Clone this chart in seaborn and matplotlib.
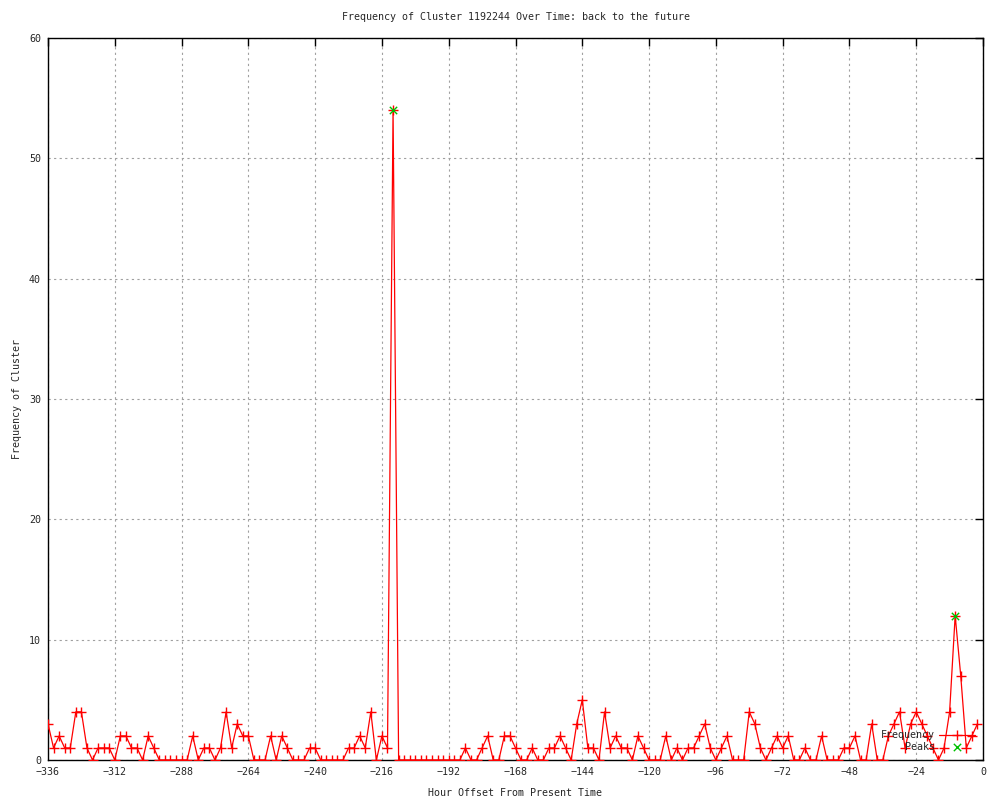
import numpy as np
import pandas as pd
import matplotlib
matplotlib.use("Agg")
import matplotlib.pyplot as plt
import seaborn as sns

# hour offsets (2-hour bins) and the cluster counts
hours = list(range(-336, 0, 2))
freq = [
    3, 1, 2, 1, 1, 4, 4, 1, 0, 1, 1, 1, 0, 2, 2, 1, 1, 0, 2, 1,      # -336 .. -298
    0, 0, 0, 0, 0, 0, 2, 0, 1, 1, 0, 1, 4, 1, 3, 2, 2, 0, 0, 0,      # -296 .. -258
    2, 0, 2, 1, 0, 0, 0, 1, 1, 0, 0, 0, 0, 0, 1, 1, 2, 1, 4, 0,      # -256 .. -218
    2, 1, 54, 0, 0, 0, 0, 0, 0, 0, 0, 0, 0, 0, 0, 1, 0, 0, 1, 2,     # -216 .. -178
    0, 0, 2, 2, 1, 0, 0, 1, 0, 0, 1, 1, 2, 1, 0, 3, 5, 1, 1, 0,      # -176 .. -138
    4, 1, 2, 1, 1, 0, 2, 1, 0, 0, 0, 2, 0, 1, 0, 1, 1, 2, 3, 1,      # -136 .. -98
    0, 1, 2, 0, 0, 0, 4, 3, 1, 0, 1, 2, 1, 2, 0, 0, 1, 0, 0, 2,      # -96 .. -58
    0, 0, 0, 1, 1, 2, 0, 0, 3, 0, 0, 2, 3, 4, 1, 3, 4, 3, 2, 1,      # -56 .. -18
    0, 1, 4, 12, 7, 1, 2, 3,                                          # -16 .. -2
]
peak_hours = [-212, -10]
peak_vals = [54, 12]

x_ticks = list(range(-336, 1, 24))
y_ticks = list(range(0, 61, 10))

df = pd.DataFrame({"hour": hours, "freq": freq})
peaks = pd.DataFrame({"hour": peak_hours, "freq": peak_vals})

sns.set_style("white")
plt.rcParams["font.family"] = ["DejaVu Sans Mono"]
FS = 7.2

fig = plt.figure(figsize=(10, 8), dpi=100)
ax = fig.add_axes([0.048, 0.05, 0.935, 0.9025])

sns.lineplot(data=df, x="hour", y="freq", color="red", marker="+",
             markersize=7, markeredgewidth=1, markeredgecolor="red",
             linewidth=0.9, sort=False, estimator=None, label="Frequency",
             ax=ax, zorder=3)
sns.scatterplot(data=peaks, x="hour", y="freq", color="#00c000", marker="x",
                s=28, linewidth=1, label="Peaks", ax=ax, zorder=4)

ax.set_xlim(-336, 0)
ax.set_ylim(0, 60)
ax.set_xticks(x_ticks)
ax.set_yticks(y_ticks)
ax.grid(True, color="#a0a0a0", linestyle=(0, (2, 3)), linewidth=0.8)
ax.tick_params(direction="in", top=True, right=True, length=6, width=1,
               color="black", labelsize=FS, pad=5)
for s in ax.spines.values():
    s.set_color("black")
    s.set_linewidth(1)

ax.set_title("Frequency of Cluster 1192244 Over Time: back to the future",
             fontsize=FS, pad=13)
ax.set_xlabel("Hour Offset From Present Time", fontsize=FS, labelpad=8)
ax.set_ylabel("Frequency of Cluster", fontsize=FS, labelpad=5)

ax.legend(loc="lower right", bbox_to_anchor=(0.996, 0.006), frameon=False,
          markerfirst=False, handlelength=3.6, handletextpad=0.4,
          labelspacing=0.15, borderaxespad=0, fontsize=FS)

fig.savefig("out.png", dpi=100)
plt.close(fig)
